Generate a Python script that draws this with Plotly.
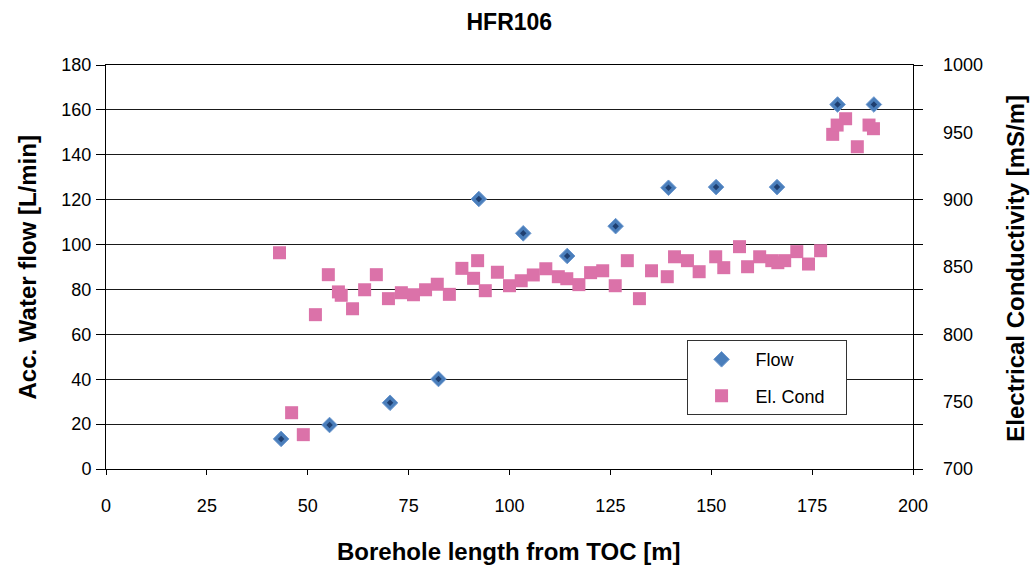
import plotly.graph_objects as go

# Flow data (left axis)
flow_x = [43.4, 55.4, 70.4, 82.4, 92.4, 103.4, 114.3, 126.3, 139.4, 151.2, 166.3, 181.3, 190.3]
flow_y = [13.4, 19.6, 29.5, 40.1, 120.3, 105.0, 94.9, 108.2, 125.3, 125.6, 125.6, 162.4, 162.4]

# Electrical conductivity (right axis)
ec_x = [43.0, 46.0, 48.9, 51.9, 55.1, 57.6, 58.3, 61.1, 64.1, 67.0, 70.0, 73.2, 76.2, 79.2,
        82.1, 85.1, 88.2, 91.1, 92.1, 94.0, 97.0, 100.0, 102.9, 105.9, 109.0, 112.1, 114.2,
        117.2, 120.1, 123.1, 126.2, 129.2, 132.2, 135.2, 139.1, 140.9, 144.1, 147.0, 151.1,
        153.1, 157.0, 159.0, 162.0, 165.0, 166.5, 168.2, 171.2, 174.1, 177.1, 180.1, 181.2,
        183.3, 186.2, 189.1, 190.2]
ec_y = [860.6, 741.8, 725.5, 814.6, 844.3, 831.5, 829.0, 819.0, 833.1, 844.3, 826.5, 830.9,
        829.4, 833.1, 837.2, 829.7, 849.0, 841.6, 854.7, 832.4, 846.1, 836.1, 839.8, 844.1,
        848.7, 842.8, 841.3, 836.9, 845.8, 847.2, 836.1, 854.7, 826.5, 847.2, 842.8, 857.6,
        854.7, 846.5, 857.6, 849.5, 865.1, 850.2, 857.6, 854.7, 853.2, 854.7, 861.4, 852.2,
        862.1, 948.5, 955.4, 960.1, 939.3, 955.4, 952.7]

x_ticks = [0, 25, 50, 75, 100, 125, 150, 175, 200]
y1_ticks = [0, 20, 40, 60, 80, 100, 120, 140, 160, 180]
y2_ticks = [700, 750, 800, 850, 900, 950, 1000]

BLUE = "#4A7EBB"
DARK = "#1F3F70"
PINK = "#DB72A9"
FONT = "Liberation Sans, Arial, sans-serif"

fig = go.Figure()

fig.add_trace(go.Scatter(
    x=ec_x, y=ec_y, mode="markers", name="El. Cond\u00a0\u00a0\u00a0", yaxis="y2",
    legendgroup="b", legendrank=2,
    marker=dict(symbol="square", size=13, color=PINK, line=dict(width=0)),
))
fig.add_trace(go.Scatter(
    x=flow_x, y=flow_y, mode="markers", name="Flow", yaxis="y",
    legendgroup="a", legendrank=1,
    marker=dict(symbol="diamond", size=12, color=BLUE,
                line=dict(width=1, color="#6C98CF")),
))
fig.add_trace(go.Scatter(
    x=flow_x, y=flow_y, mode="markers", showlegend=False, yaxis="y",
    hoverinfo="skip",
    marker=dict(symbol="diamond", size=5, color=DARK, line=dict(width=0)),
))

fig.update_layout(
    width=1031, height=570,
    margin=dict(l=105.7, r=117.7, t=65, b=101, autoexpand=False),
    paper_bgcolor="white", plot_bgcolor="white",
    font=dict(family=FONT, size=18, color="black"),
    title=dict(text="<b>HFR106</b>", x=0.494, xanchor="center", y=0.962, yanchor="middle",
               font=dict(family=FONT, size=23, color="black")),
    xaxis=dict(range=[0, 200], tickvals=x_ticks, showgrid=False, zeroline=False,
               showline=True, linecolor="black", linewidth=1, mirror=True,
               ticks="outside", ticklen=5, tickcolor="black", ticklabelstandoff=15,
               tickfont=dict(size=18)),
    yaxis=dict(range=[0, 180], tickvals=y1_ticks, showgrid=True, gridcolor="#1a1a1a",
               gridwidth=1, zeroline=False, showline=True, linecolor="black", linewidth=1,
               mirror="ticks", ticks="outside", ticklen=9, tickcolor="black",
               ticklabelstandoff=1, tickfont=dict(size=18)),
    yaxis2=dict(range=[700, 1000], tickvals=y2_ticks, overlaying="y", side="right",
                showgrid=False, zeroline=False, showline=False, ticks="",
                ticklabelstandoff=29, tickfont=dict(size=18)),
    legend=dict(x=0.7194, y=0.319, xanchor="left", yanchor="top",
                bgcolor="white", bordercolor="#333333", borderwidth=1,
                font=dict(size=18), traceorder="grouped", tracegroupgap=10,
                itemwidth=58),
    showlegend=True,
)

fig.add_annotation(text="<b>Acc. Water flow [L/min]</b>", xref="paper", yref="paper",
                   x=-0.0985, y=0.4975, textangle=-90, showarrow=False,
                   xanchor="center", yanchor="middle", font=dict(size=24, family=FONT))
fig.add_annotation(text="<b>Electrical Conductivity [mS/m]</b>", xref="paper", yref="paper",
                   x=1.126, y=0.4975, textangle=-90, showarrow=False,
                   xanchor="center", yanchor="middle", font=dict(size=24, family=FONT))
fig.add_annotation(text="<b>Borehole length from TOC [m]</b>", xref="paper", yref="paper",
                   x=0.4994, y=-0.2054, showarrow=False,
                   xanchor="center", yanchor="middle", font=dict(size=24, family=FONT))

fig.write_html("out.html", config={"displayModeBar": False},
               post_script="document.body.style.margin='0';")
